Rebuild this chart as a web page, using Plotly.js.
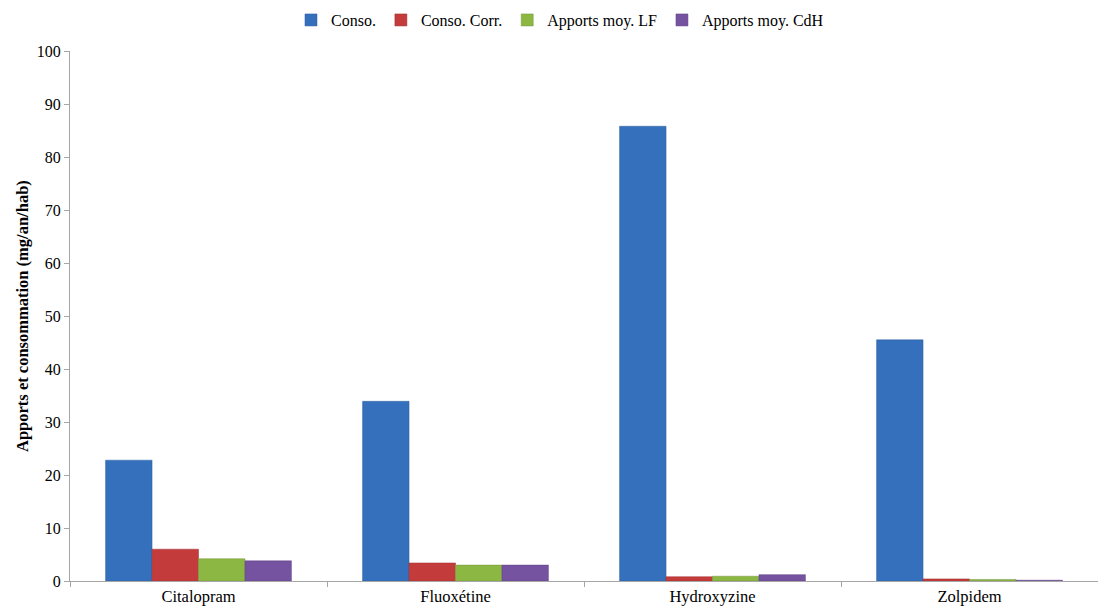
<!DOCTYPE html>
<html><head><meta charset="utf-8">
<script src="https://cdn.plot.ly/plotly-3.0.1.min.js"></script>
<style>html,body{margin:0;padding:0;background:#fff}#chart{width:1098px;height:610px}</style>
</head><body><div id="chart"></div>
<script>
var categories = ["Citalopram", "Fluoxétine", "Hydroxyzine", "Zolpidem"];
var seriesNames = ["Conso.", "Conso. Corr.", "Apports moy. LF", "Apports moy. CdH"];
var conso = [22.8, 33.9, 85.8, 45.5];
var consoCorr = [6.0, 3.4, 0.8, 0.4];
var apportsLF = [4.2, 3.0, 0.9, 0.3];
var apportsCdH = [3.8, 3.0, 1.2, 0.15];
var colors = ["#3570bd", "#c33b3a", "#8db743", "#7553a0"];
var lineColors = ["#2f5f9e", "#a03030", "#72963a", "#5f4585"];
var yTicks = [0,10,20,30,40,50,60,70,80,90,100];
var yTitle = "Apports et consommation (mg/an/hab)";

var allValues = [conso, consoCorr, apportsLF, apportsCdH];
var traces = allValues.map(function(v, i){
  return {type:"bar", x:categories, y:v, name:seriesNames[i],
    marker:{color:colors[i], line:{color:lineColors[i], width:0.5}}};
});
var layout = {
  width:1098, height:610,
  margin:{l:70, r:0, t:51, b:29},
  paper_bgcolor:"#fff", plot_bgcolor:"#fff",
  font:{family:"Liberation Serif, Times New Roman, serif", size:16, color:"#000"},
  barmode:"group", bargap:0.277, bargroupgap:0,
  showlegend:true,
  legend:{orientation:"h", xref:"container", x:0.51, xanchor:"center", yref:"container", y:0.995, yanchor:"top",
    font:{size:16}, itemwidth:30, traceorder:"normal"},
  xaxis:{showline:true, linecolor:"#a6a6a6", linewidth:1, ticks:"outside", tickson:"boundaries",
    ticklen:5, tickcolor:"#a6a6a6", showgrid:false, zeroline:false, tickfont:{size:16.5}},
  yaxis:{range:[0,100], tickvals:yTicks, showline:true, linecolor:"#a6a6a6", linewidth:1,
    ticks:"outside", ticklen:5, tickcolor:"#a6a6a6", showgrid:false, zeroline:false,
    tickfont:{size:16}},
  annotations:[{text:"<b>"+yTitle+"</b>", xref:"paper", yref:"paper", x:0, y:0.5,
    xshift:-48, xanchor:"center", yanchor:"middle", textangle:-90, showarrow:false,
    font:{size:16.5, color:"#000"}}]
};
Plotly.newPlot("chart", traces, layout, {displayModeBar:false});
</script></body></html>
